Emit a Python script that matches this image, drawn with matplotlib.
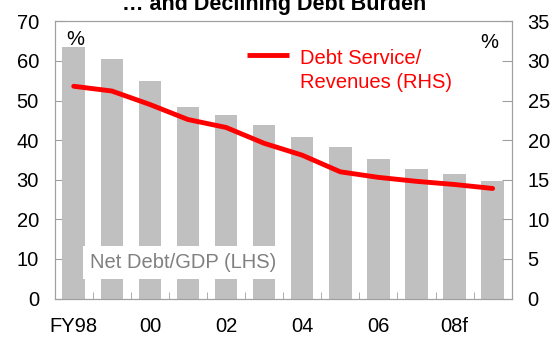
#!/usr/bin/env python3
"""Net debt/GDP (bars, LHS) and debt service/revenues (line, RHS), FY98-FY09f."""

import matplotlib

matplotlib.use("Agg")
import matplotlib.pyplot as plt
import numpy as np

plt.rcParams["font.family"] = ["Liberation Sans", "DejaVu Sans"]

YEARS = ["FY98", "99", "00", "01", "02", "03", "04", "05", "06", "07", "08f", "09f"]
TICK_LABELS = ["FY98", "", "00", "", "02", "", "04", "", "06", "", "08f", ""]
NET_DEBT_GDP = [63.5, 60.5, 54.9, 48.4, 46.3, 43.8, 40.8, 38.3, 35.3, 32.7, 31.5, 29.8]
DEBT_SERVICE_REV = [26.8, 26.2, 24.5, 22.6, 21.6, 19.6, 18.1, 16.0, 15.3, 14.8, 14.4, 13.9]

GREY_BAR = "#c0c0c0"
SPINE = "#a0a0a0"
RED = "#ff0000"
FS = 14.5


def main() -> None:
    fig = plt.figure(figsize=(5.54, 3.37), dpi=100)
    ax = fig.add_axes([0.0987, 0.114, 0.8249, 0.8228])
    ax2 = ax.twinx()

    x = np.arange(len(YEARS))
    ax.bar(x, NET_DEBT_GDP, width=0.59, color=GREY_BAR, zorder=2)
    ax2.plot(x, DEBT_SERVICE_REV, color=RED, lw=3.5, solid_capstyle="round",
             solid_joinstyle="round", zorder=3)

    ax.set_xlim(-0.5, len(YEARS) - 0.5)
    ax.set_ylim(0, 70)
    ax2.set_ylim(0, 35)
    ax.set_yticks(range(0, 71, 10))
    ax2.set_yticks(range(0, 36, 5))

    # labels under bars, tick marks between bars
    ax.set_xticks(x)
    ax.set_xticklabels(TICK_LABELS, fontsize=FS)
    ax.set_xticks(x[:-1] + 0.5, minor=True)
    ax.tick_params(axis="x", which="major", length=0, pad=13)
    ax.tick_params(axis="x", which="minor", direction="in", length=5,
                   color=SPINE)
    ax.tick_params(axis="y", direction="in", length=7, color=SPINE,
                   labelsize=FS, pad=11.3)
    ax2.tick_params(axis="y", direction="in", length=7, color=SPINE,
                    labelsize=FS, pad=11.5)

    for a in (ax, ax2):
        for s in a.spines.values():
            s.set_color(SPINE)

    ax.text(0.044, 0.935, "%", transform=ax.transAxes, fontsize=FS,
            ha="center", va="center")
    ax2.text(0.95, 0.925, "%", transform=ax2.transAxes, fontsize=FS,
             ha="center", va="center")

    # legend drawn by hand, as in the original
    ax2.plot([0.421, 0.513], [0.878, 0.878], transform=ax2.transAxes,
             color=RED, lw=3.5, solid_capstyle="butt")
    ax2.text(0.537, 0.822, "Debt Service/\nRevenues (RHS)",
             transform=ax2.transAxes, color=RED, fontsize=FS,
             ha="left", va="center", linespacing=1.3)

    ax2.text(0.077, 0.129, "Net Debt/GDP (LHS)", transform=ax2.transAxes,
             color="#808080", fontsize=FS, ha="left", va="center", zorder=5,
             bbox=dict(facecolor="white", edgecolor="none", pad=5))

    fig.text(0.495, 0.97, "\u2026 and Declining Debt Burden", fontsize=15.5,
             fontweight="bold", ha="center", va="baseline")

    fig.savefig("out.png", dpi=100)


if __name__ == "__main__":
    main()
